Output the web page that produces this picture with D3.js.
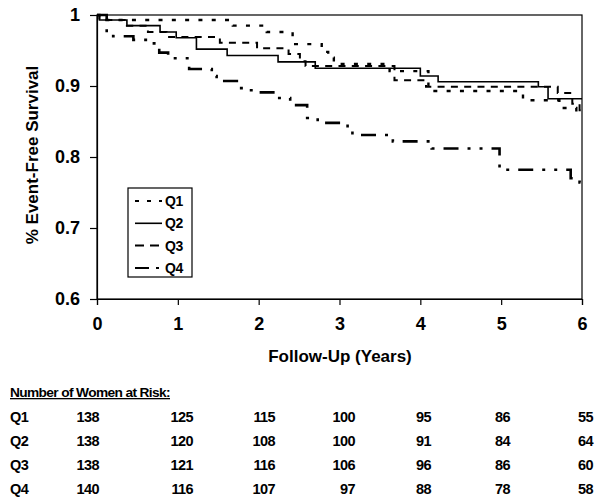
<!DOCTYPE html>
<html><head><meta charset="utf-8">
<script src="https://cdn.jsdelivr.net/npm/d3@7"></script>
<style>body{margin:0;background:#fff}svg{display:block}</style>
</head><body>
<svg id="c" width="602" height="501"></svg>
<script>
// ---- data ----
const seriesNames = ["Q1", "Q2", "Q3", "Q4"];
const q1Times = [0, 0.03, 1.68, 2.1, 2.42, 2.78, 2.86, 2.93, 3.62, 4.1, 5.27, 5.72, 5.93, 6];
const q1Surv  = [1, 0.993, 0.985, 0.976, 0.959, 0.948, 0.940, 0.931, 0.921, 0.893, 0.880, 0.869, 0.862, 0.862];
const q2Times = [0, 0.03, 0.37, 0.78, 0.98, 1.23, 1.61, 2.24, 2.70, 4.0, 4.22, 5.46, 5.58, 6];
const q2Surv  = [1, 0.993, 0.985, 0.976, 0.968, 0.952, 0.943, 0.934, 0.925, 0.914, 0.906, 0.899, 0.882, 0.882];
const q3Times = [0, 0.03, 0.37, 0.63, 0.86, 1.52, 1.98, 2.37, 2.51, 2.58, 3.68, 4.07, 5.7, 5.88, 5.97, 6];
const q3Surv  = [1, 0.993, 0.985, 0.976, 0.969, 0.961, 0.953, 0.945, 0.935, 0.928, 0.908, 0.899, 0.890, 0.875, 0.866, 0.866];
const q4Times = [0, 0.12, 0.2, 0.45, 0.66, 0.77, 0.88, 1.14, 1.42, 1.48, 1.73, 1.83, 1.93, 2.2, 2.39, 2.6, 2.73, 3.1, 3.16, 3.66, 4.14, 4.98, 5.86, 5.97, 6];
const q4Surv  = [1, 0.975, 0.970, 0.965, 0.960, 0.947, 0.939, 0.924, 0.914, 0.907, 0.897, 0.894, 0.891, 0.883, 0.873, 0.855, 0.848, 0.840, 0.831, 0.822, 0.812, 0.782, 0.770, 0.764, 0.764];
const xTicks = [0, 1, 2, 3, 4, 5, 6];
const yTicks = [0.6, 0.7, 0.8, 0.9, 1];
const yTickLabels = ["0.6", "0.7", "0.8", "0.9", "1"];
const riskTitle = "Number of Women at Risk:";
const riskQ1 = [138, 125, 115, 100, 95, 86, 55];
const riskQ2 = [138, 120, 108, 100, 91, 84, 64];
const riskQ3 = [138, 121, 116, 106, 96, 86, 60];
const riskQ4 = [140, 116, 107, 97, 88, 78, 58];

// ---- layout ----
const L = 97, R = 582, T = 15, B = 299;
const svg = d3.select("#c");
const x = d3.scaleLinear().domain([0, 6]).range([L, R]);
const y = d3.scaleLinear().domain([0.6, 1]).range([B, T]);
const FONT = "'Liberation Sans', Arial, sans-serif";

// frame
svg.append("rect").attr("x", L).attr("y", T).attr("width", R - L).attr("height", B - T)
  .attr("fill", "none").attr("stroke", "#000").attr("stroke-width", 1.2);

// axes
const xAxis = svg.append("g").attr("transform", `translate(0,${B})`)
  .call(d3.axisBottom(x).tickValues(xTicks).tickSize(6).tickPadding(12).tickFormat(d3.format("d")));
const yAxis = svg.append("g").attr("transform", `translate(${L},0)`)
  .call(d3.axisLeft(y).tickValues(yTicks).tickSize(7).tickPadding(10).tickFormat((d, i) => yTickLabels[i]));
[xAxis, yAxis].forEach(g => {
  g.select(".domain").attr("stroke", "#000").attr("stroke-width", 1.2);
  g.selectAll(".tick line").attr("stroke", "#000").attr("stroke-width", 1.2);
  g.selectAll("text").attr("font-family", FONT).attr("font-size", 18).attr("font-weight", "bold").attr("fill", "#000");
});

// titles
svg.append("text").attr("x", 340).attr("y", 362).attr("text-anchor", "middle")
  .attr("font-family", FONT).attr("font-size", 17).attr("font-weight", "bold").text("Follow-Up (Years)");
svg.append("text").attr("transform", "translate(38,155) rotate(-90)").attr("text-anchor", "middle")
  .attr("font-family", FONT).attr("font-size", 17).attr("font-weight", "bold").text("% Event-Free Survival");

// curves
const styles = [
  { dash: "4,9.3", w: 2.4 },
  { dash: null, w: 1.6 },
  { dash: "7,6.3", w: 2 },
  { dash: "15,9,3,9,3,9", w: 2.6 }
];
const seriesData = [[q1Times, q1Surv], [q2Times, q2Surv], [q3Times, q3Surv], [q4Times, q4Surv]]
  .map(([t, s]) => t.map((v, i) => [v, s[i]]));
const line = d3.line().x(d => x(d[0])).y(d => y(d[1])).curve(d3.curveStepAfter);
seriesData.forEach((d, i) => {
  svg.append("path").attr("d", line(d)).attr("fill", "none").attr("stroke", "#000")
    .attr("stroke-width", styles[i].w).attr("stroke-dasharray", styles[i].dash);
});

// legend
const lg = svg.append("g");
lg.append("rect").attr("x", 128).attr("y", 188).attr("width", 64).attr("height", 89)
  .attr("fill", "#fff").attr("stroke", "#000").attr("stroke-width", 1.2);
const legendDash = ["4,8", null, "9,6", "14,7,3,7"];
seriesNames.forEach((n, i) => {
  const yy = 201 + i * 22.3;
  lg.append("line").attr("x1", 135).attr("x2", 162).attr("y1", yy).attr("y2", yy)
    .attr("stroke", "#000").attr("stroke-width", i === 1 ? 1.6 : 2)
    .attr("stroke-dasharray", legendDash[i]);
  lg.append("text").attr("x", 165).attr("y", yy + 5).attr("font-family", FONT)
    .attr("font-size", 14).attr("font-weight", "bold").attr("letter-spacing", -0.5).text(n);
});

// at-risk table
const NF = "'Liberation Sans Narrow', 'Arial Narrow', 'Liberation Sans', Arial, sans-serif";
svg.append("text").attr("x", 10).attr("y", 397).attr("font-family", NF).attr("font-size", 13)
  .attr("font-weight", "bold").attr("letter-spacing", -0.6).attr("text-decoration", "underline")
  .attr("textLength", 160).attr("lengthAdjust", "spacingAndGlyphs").text(riskTitle);
const colRight = [99, 193, 275, 355, 431, 510, 593];
const rows = [riskQ1, riskQ2, riskQ3, riskQ4];
rows.forEach((r, i) => {
  const yy = 421.5 + i * 24.3;
  svg.append("text").attr("x", 10).attr("y", yy).attr("font-family", NF).attr("font-size", 14.5)
    .attr("font-weight", "bold").attr("letter-spacing", -0.6).text(seriesNames[i]);
  r.forEach((v, j) => {
    svg.append("text").attr("x", colRight[j]).attr("y", yy).attr("text-anchor", "end")
      .attr("font-family", NF).attr("font-size", 14.5).attr("font-weight", "bold").attr("letter-spacing", -0.6).text(v);
  });
});
</script>
</body></html>
